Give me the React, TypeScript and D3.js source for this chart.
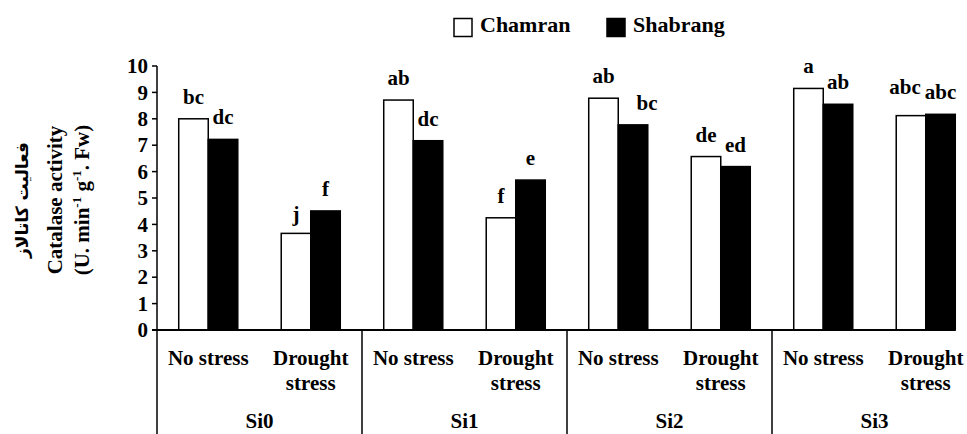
import React, { useEffect, useRef } from 'react';
import * as d3 from 'd3';

const groups = ['Si0', 'Si1', 'Si2', 'Si3'];
const treatments = ['No stress', 'Drought stress'];
const series = ['Chamran', 'Shabrang'];
// one value per group x treatment, in order
const chamranValues = [8.0, 3.66, 8.71, 4.25, 8.78, 6.57, 9.15, 8.12];
const shabrangValues = [7.22, 4.51, 7.17, 5.68, 7.77, 6.19, 8.55, 8.17];
const chamranLetters = ['bc', 'j', 'ab', 'f', 'ab', 'de', 'a', 'abc'];
const shabrangLetters = ['dc', 'f', 'dc', 'e', 'bc', 'ed', 'ab', 'abc'];
const yTicks = [0, 1, 2, 3, 4, 5, 6, 7, 8, 9, 10];
const titleFa = 'فعالیت کاتالاز';

const SERIF = "'Liberation Serif', Tinos, 'Times New Roman', monospace";
const serif = (size: number): React.CSSProperties => ({
  fontFamily: SERIF,
  fontWeight: 'bold',
  fontSize: `${size}px`,
});

const height = 434;
const left = 157;
const right = 977;
const top = 66;
const bottom = 330;

const cells = groups.flatMap(g => treatments.map(t => `${g}|${t}`));
const valuesBySeries = [chamranValues, shabrangValues];
const lettersBySeries = [chamranLetters, shabrangLetters];

const x = d3.scaleBand<string>().domain(cells).range([left, right]).paddingInner(0.424).paddingOuter(0.212);
const xs = d3.scaleBand<string>().domain(series).range([0, x.bandwidth()]).padding(0);
const y = d3.scaleLinear().domain([0, 10]).range([bottom, top]);

// small nudges for letters that sit off-centre in the original (series-cell -> [dx, dy])
const letterNudge: Record<string, [number, number]> = {
  '1-4': [14, 0],
  '0-7': [-6, -7],
  '0-1': [0, 3],
};

export default function App() {
  const rootRef = useRef<HTMLDivElement | null>(null);
  const lastEnd = x(cells[cells.length - 1])! + x.bandwidth();
  const legendPos = [454, 607];
  const cy = 200;

  // force the serif face on every latin text, in case a page style overrides it
  useEffect(() => {
    if (!rootRef.current) return;
    d3.select(rootRef.current).selectAll<SVGTextElement, unknown>('text.lat').each(function () {
      this.style.setProperty('font-family', SERIF, 'important');
    });
    d3.select(rootRef.current).selectAll<SVGTextElement, unknown>('text.fa').each(function () {
      this.style.setProperty('font-family', "'DejaVu Sans', monospace", 'important');
    });
  }, []);

  return (
    <div ref={rootRef} style={{ position: 'absolute', left: 0, top: 0, width: 967, height: 434, background: '#fff' }}>
      <svg width={967} height={434} style={{ position: 'absolute', left: 0, top: 0 }}>
        {/* legend */}
        {series.map((s, i) => (
          <g key={s}>
            <rect x={legendPos[i]} y={18.5} width={18} height={18} fill={i === 0 ? '#fff' : '#000'} stroke="#000" strokeWidth={1.5} />
            <text className="lat" x={legendPos[i] + 26} y={32} style={serif(22)}>{s}</text>
          </g>
        ))}

        {/* y axis */}
        {yTicks.map(t => (
          <g key={t} transform={`translate(${left},${y(t)})`}>
            <line x1={-5} x2={0} stroke="#000" strokeWidth={1.5} />
            <text className="lat" x={-9} dy="0.34em" textAnchor="end" style={serif(21)}>{t}</text>
          </g>
        ))}
        <line x1={left} x2={left} y1={top} y2={height} stroke="#000" strokeWidth={1.5} />

        {/* bars and letters */}
        {cells.map((c, ci) => (
          <g key={c} transform={`translate(${x(c)},0)`}>
            {series.map((s, si) => {
              const v = valuesBySeries[si][ci];
              const [dx, dy] = letterNudge[`${si}-${ci}`] ?? [0, 0];
              return (
                <g key={s}>
                  <rect
                    x={xs(s)}
                    y={y(v)}
                    width={xs.bandwidth()}
                    height={bottom - y(v)}
                    fill={si === 0 ? '#fff' : '#000'}
                    stroke="#000"
                    strokeWidth={1.5}
                  />
                  <text
                    className="lat"
                    x={xs(s)! + xs.bandwidth() / 2 + dx}
                    y={y(v) - 15 + dy}
                    textAnchor="middle"
                    style={serif(21)}
                  >
                    {lettersBySeries[si][ci]}
                  </text>
                </g>
              );
            })}
          </g>
        ))}

        {/* x axis line */}
        <line x1={left - 5} x2={lastEnd} y1={bottom} y2={bottom} stroke="#000" strokeWidth={2} />

        {/* group separators and labels */}
        {groups.map((grp, i) => (
          <g key={grp}>
            {i > 0 && (
              <line
                x1={left + i * 2 * x.step()}
                x2={left + i * 2 * x.step()}
                y1={bottom}
                y2={height}
                stroke="#000"
                strokeWidth={1.5}
              />
            )}
            <text className="lat" x={left + (i * 2 + 1) * x.step()} y={428} textAnchor="middle" style={serif(21)}>{grp}</text>
          </g>
        ))}

        {/* treatment labels */}
        {cells.map(c => {
          const tr = c.split('|')[1];
          const lines = tr === 'No stress' ? [tr] : tr.split(' ');
          const cx = x(c)! + x.bandwidth() / 2;
          return lines.map((ln, j) => (
            <text className="lat" key={`${c}-${j}`} x={cx} y={365 + j * 25} textAnchor="middle" style={serif(21)}>{ln}</text>
          ));
        })}

        {/* y title, latin lines */}
        <text className="lat" transform={`translate(62,${cy}) rotate(-90)`} textAnchor="middle" style={serif(21)}>
          Catalase activity
        </text>
        <text className="lat" transform={`translate(89,${cy}) rotate(-90)`} textAnchor="middle" style={serif(21)}>
          <tspan>(U. min</tspan>
          <tspan dy={-8} style={{ fontSize: '13px' }}>-1</tspan>
          <tspan dy={8}> g</tspan>
          <tspan dy={-8} style={{ fontSize: '13px' }}>-1</tspan>
          <tspan dy={8}>. Fw)</tspan>
        </text>

        {/* y title, Persian line */}
        <text
          className="fa"
          transform={`translate(28,${cy}) rotate(-90)`}
          textAnchor="middle"
          style={{ fontFamily: "'DejaVu Sans', monospace", fontWeight: 'bold', fontSize: '17px' }}
        >
          {titleFa}
        </text>
      </svg>
    </div>
  );
}
